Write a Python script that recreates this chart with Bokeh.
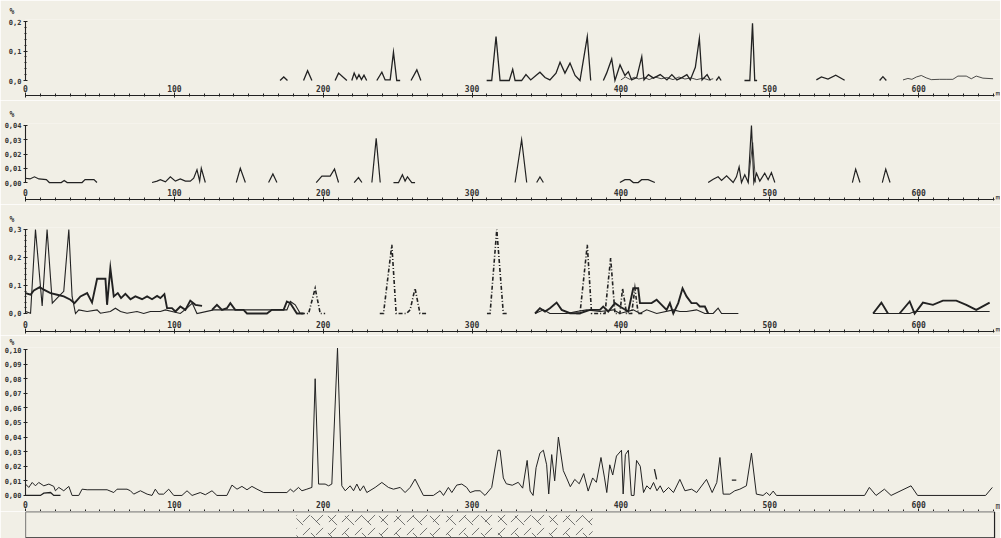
import numpy as np
from bokeh.plotting import figure
from bokeh.models import Range1d, FixedTicker, CustomJSTickFormatter, Label, ColumnDataSource
from bokeh.layouts import column
from bokeh.embed import file_html
from bokeh.resources import INLINE

N = float("nan")

# ---------------- data (distance m, content %) ----------------
# Panel 1
p1_main_m = [171, 173.5, 176, N, 186.8, 189.5, 192.4, N, 208, 210.3, 215.9, N,
             219.2, 220.8, 222.6, 224, 225.7, 227.4, 229.2, N,
             236, 239.4, 241.6, 245, 247.2, 249.4, 251.7, N, 259, 262.9, 265.6, N,
             309.8, 313.2, 316.1, 318.8, 321.5, 325, 327.3, 328.9, 333.3, 336.2,
             339.4, 342.9, 345.6, 349, 352.3, 356.4, 359.1, 362.4, 365.8, 369.2,
             372.5, 377.4, 379.7, N,
             388.2, 390.4, 393.8, 396, 399.4, 402.7, 405, 407.2, 410.6, 414,
             415.5, 418.5, 421.9, 426.4, 430.9, 434.2, 437.6, 441, 444.3, 446.6,
             450, 452.7, 454.5, 457.9, 460.1, N,
             464, 465.8, 467.3, N, 483, 486.6, 488.4, 489.9, 491.5, N,
             531.3, 534.7, 539.1, 544.3, 550.3, N, 573.8, 576, 578.3]
p1_main_v = [0, 0.012, 0, N, 0, 0.033, 0, N, 0, 0.025, 0, N,
             0, 0.025, 0.005, 0.02, 0.003, 0.018, 0, N,
             0, 0.028, 0.002, 0.002, 0.096, 0, 0, N, 0, 0.036, 0, N,
             0, 0, 0.149, 0, 0, 0, 0.038, 0, 0, 0.02,
             0.002, 0.017, 0.028, 0.01, 0.002, 0.025, 0.062, 0.025, 0.059, 0.017,
             0, 0.149, 0, N,
             0, 0.025, 0.073, 0, 0.053, 0.017, 0.03, 0.002, 0.01, 0.081,
             0.002, 0.02, 0.008, 0.02, 0.002, 0.02, 0.002, 0.01, 0.02, 0.002,
             0.045, 0.143, 0.002, 0.02, 0, N,
             0, 0.012, 0, N, 0, 0, 0.194, 0, 0, N,
             0.002, 0.012, 0.005, 0.018, 0.001, N, 0, 0.013, 0]
p1_thin_m = [400, 403, 406, 409, 412, 416, 419, 423, 427, 431, 435, 439, 443, 447, 451, 455, 459, 462, N,
             589.5, 592.8, 595.5, 598.5, 601.8, 605.1, 608.5, 614, 619, 623, 626.4, 632, 635.4, 638.7, 643.2, 650]
p1_thin_v = [0.002, 0.012, 0.004, 0.011, 0.005, 0.01, 0.003, 0.012, 0.006, 0.01, 0.003, 0.012, 0.005, 0.009, 0.003, 0.008, 0.002, 0.006, N,
             0.002, 0.007, 0.004, 0.012, 0.017, 0.009, 0.003, 0.004, 0.004, 0.004, 0.015, 0.015, 0.006, 0.015, 0.008, 0.006]

# Panel 2
p2_main_m = [0, 3, 6, 9, 14, 16, 24, 26, 28, 38, 40, 46, 48, N,
             85, 88.4, 90.6, 94, 97.3, 100.7, 104, 107.4, 110.7, 113, 115.2, 117, 118.1, 120.8, N,
             141.6, 144.3, 147.7, N, 163.3, 166.2, 168.9, N,
             195.3, 199.1, 204.7, 207.6, 210.3, N, 220.8, 223.7, 226, N,
             232.7, 235.6, 238.3, N, 247.2, 250.6, 253.2, 255, 256.6, 259.5, 261.7, N,
             328.9, 333.3, 336.7, N, 343.4, 345.6, 347.9, N,
             399.3, 402.7, 406, 408.3, 411.6, 413.9, 418.3, 422.8, N,
             458.6, 462, 465.3, 467.6, 471, 475.4, 477.6, 479.4, 481, 483.2,
             485.5, 487.7, 489.3, 491.1, 493.3, 496.6, 498.9, 501.1, 503.4, N,
             555.5, 557.7, 560.6, N, 575.6, 577.9, 580.8]
p2_main_v = [0.003, 0.0025, 0.004, 0.0025, 0.002, 0, 0, 0.0015, 0, 0, 0.002, 0.002, 0, N,
             0, 0.001, 0.002, 0.0005, 0.004, 0.001, 0.0025, 0.001, 0.001, 0.003, 0.009, 0.001, 0.01, 0, N,
             0, 0.01, 0, N, 0, 0.006, 0, N,
             0, 0.0045, 0.0045, 0.0095, 0, N, 0, 0.0035, 0, N,
             0, 0.031, 0, N, 0, 0, 0.0055, 0.001, 0.004, 0, 0, N,
             0, 0.03, 0, N, 0, 0.004, 0, N,
             0, 0.002, 0.002, 0, 0, 0.002, 0.002, 0, N,
             0, 0.0023, 0.004, 0.0015, 0.0047, 0, 0.004, 0.011, 0, 0.0054,
             0, 0.040, 0, 0.0065, 0.001, 0.0065, 0.002, 0.007, 0, N,
             0, 0.0094, 0, N, 0, 0.0094, 0]
p2_thin_m = [485.5, 488.5, 490.5]
p2_thin_v = [0, 0.028, 0]

# Panel 3
p3_thick_m = [0, 3.4, 5.6, 9.6, 12.3, 16.8, 21.3, 25.7, 30.2, 32.9,
              36.9, 41.4, 44.7, 48.1, 53.7, 54.8, 57, 59.3, 62, 64.2,
              67.1, 70.5, 73.8, 78.3, 81.7, 85, 88.4, 90.6, 93.3, 95.1,
              98.4, 100.7, 104, 107.4, 110.7, 114.1, 118.6, N,
              125.3, 128.6, 132, 135.3, 137.6, 140.9, 146.5, 148.8, 162.2, 165.5,
              173.4, 175.6, 177.9, 182.3, 186.8, N,
              342.3, 345.6, 349, 352.3, 356.8, 360.2, 365.8, 372.5, 379.2, 385.9,
              388.1, 391.5, 396, 399.3, 404.9, 408.3, 411.6, 412.8, 420.6, 424,
              426.2, 430.7, 432.9, 435.2, 438.5, 441.4, 444.1, 447.4, 450.8, 453,
              456.4, 458.6, N, 569.4, 575, 579.4, N,
              587.2, 594, 597.3, 602.9, 609.6, 616.3, 625.3, 632, 638.7, 647.7]
p3_thick_v = [0.073, 0.067, 0.082, 0.094, 0.085, 0.073, 0.067, 0.061, 0.049, 0.037,
              0.061, 0.073, 0.039, 0.124, 0.124, 0.031, 0.162, 0.061, 0.073, 0.055,
              0.07, 0.051, 0.061, 0.051, 0.061, 0.051, 0.063, 0.055, 0.069, 0.019,
              0.019, 0.007, 0.025, 0.013, 0.046, 0.031, 0.027, N,
              0.013, 0.031, 0.013, 0.019, 0.037, 0.013, 0.013, 0, 0, 0.013,
              0.013, 0.043, 0.037, 0, 0, N,
              0, 0.019, 0.007, 0.019, 0.039, 0.013, 0.001, 0.001, 0.013, 0.013,
              0.025, 0.007, 0.037, 0.025, 0.007, 0.09, 0.09, 0.037, 0.037, 0.049,
              0.037, 0.013, 0.037, 0, 0.037, 0.09, 0.061, 0.037, 0.037, 0.025,
              0.025, 0, N, 0, 0.039, 0, N,
              0, 0.043, 0, 0.039, 0.031, 0.046, 0.046, 0.031, 0.013, 0.039]
p3_thin_m = [0, 3.4, 6.7, 11.2, 14.5, 18, 20.1, 23.5, 25.7, 29.1,
             31.3, 33.6, 35.8, 41.4, 48.1, 50.3, 57, 60.4, 63.8, 68.2,
             74.9, 79.4, 83.9, 90.6, 94, 98.4, 104, 108.5, 112, 115.2,
             126.4, 139.8, 148.8, 175.6, 177.9, 181.2, 184.6, N,
             342.3, 348, 352.3, 363.5, 370.2, 377, 386, 395, 399.3, 408.3,
             412.8, 417.3, 424, 435.2, 439.6, 444.1, 450.8, 456.4, 462, 465.3,
             467.6, 478.9, N, 569.4, 594, 597.3, 600.7, 609.6, 647.7]
p3_thin_v = [0.007, 0.001, 0.3, 0.027, 0.3, 0.037, 0.049, 0.067, 0.079, 0.3,
             0.061, 0, 0.013, 0.007, 0.013, 0.001, 0.007, 0.019, 0.007, 0.001,
             0.007, 0, 0.007, 0.007, 0.013, 0.007, 0, 0.019, 0.037, 0,
             0.013, 0.013, 0.013, 0.013, 0.043, 0.031, 0, N,
             0, 0.013, 0, 0, 0.007, 0.013, 0.007, 0.013, 0, 0.013,
             0, 0.013, 0, 0.013, 0.007, 0.007, 0.013, 0, 0, 0.019,
             0, 0, N, 0, 0, 0.007, 0.007, 0.007, 0.007]
p3_dd_m = [185, 190.2, 194.6, 198, 201.3, N,
           238, 240.5, 246.1, 249, 256, 258.4, 261.7, 265, 269.6, N,
           310, 312.1, 316.6, 321, 323.3, N,
           370, 372.5, 377.4, 380.3, 389.3, 393.1, 396, 399.3, 401.1, 403.8, 407.2, 409.4, 411.6, 415]
p3_dd_v = [0, 0, 0.09, 0, 0, N,
           0, 0, 0.245, 0, 0, 0.013, 0.09, 0, 0, N,
           0, 0, 0.3, 0, 0, N,
           0, 0, 0.245, 0, 0, 0.198, 0, 0, 0.09, 0, 0, 0.09, 0, 0]

# Panel 4
p4_main_m = [0, 2.2, 4.5, 6.7, 8.9, 12.3, 15.7, 19, 20.1, 22.4,
             25.7, 29.1, 31.3, 35.8, 38, 41.4, 54.8, 59.3, 61.5, 68.2,
             70.5, 72.7, 77.2, 81.7, 85, 87.2, 89.5, 92.8, 96.2, 99.6,
             105.1, 108.5, 111.9, 117.4, 120.8, 125.3, 128.6, 135.3, 138.7, 142.1,
             145.4, 148.8, 152.1, 155.5, 160, 175.6, 177.9, 180.1, 183.4, 185.7,
             189, 192.4, 194.6, 196.9, 201.3, 203.6, 205.8, 209.6, 212.5, 214.8,
             218.1, 220.4, 222.6, 224.8, 227.1, 229.3, 234.9, 239.4, 243.8, 247.2,
             251.7, 255, 258.4, 261.7, 267.3, 274, 278.5, 280.8, 284.1, 286.4,
             289.7, 293.1, 296.4, 298.7, 302, 305.4, 308.7, 313.2, 317.4,
             318.8, 321, 323, 327, 331, 334, 337, 339, 341, 343,
             345.6, 347.9, 350.1, 351.5, 353.5, 355.5, 358, 361.3, 363.5, 366,
             369, 372, 375, 378, 381, 383.5, 386.6, 389, 390.5, 392.5,
             394.5, 397, 400.4, 401.5, 403, 405, 407, 408.8, 410.5, 413,
             415.2, 417.4, 419.7, 421.9, 424.2, 426.4, 428.6, 432, 435.3, 439.6,
             443, 447.5, 450.9, 457.5, 461.3, 464.4, 466.5, 468.7, 473.2, 476.5,
             479.9, 484.3, 487.7, 491, 495.5, 497.8, 500, 502.3, 504.5, 563.7,
             566.9, 571.4, 577, 581.5, 594.9, 599.3, 645, 649.5]
p4_main_v = [0.0078, 0.0055, 0.0089, 0.0066, 0.0089, 0.0066, 0.0078, 0.0062, 0.0032, 0.0055,
             0.0032, 0.0062, 0, 0, 0.0043, 0.0039, 0.0039, 0.002, 0.0043, 0.0043,
             0.0032, 0.0009, 0.0032, 0.0009, 0, 0.0043, 0.0009, 0.0009, 0.0043, 0,
             0, 0.0032, 0, 0.002, 0.0005, 0.0032, 0, 0, 0.0071, 0.0043,
             0.0062, 0.0039, 0.0062, 0.0043, 0.002, 0.002, 0.0043, 0.0025, 0.0055, 0.0032,
             0.0043, 0.0055, 0.080, 0.0078, 0.0078, 0.0066, 0.0078, 0.101, 0.0066, 0.0032,
             0.0066, 0.0032, 0.0078, 0.0032, 0.0066, 0.002, 0.0055, 0.0089, 0.0055, 0.0043,
             0.0055, 0.002, 0.0055, 0.0112, 0, 0, 0.0032, 0, 0.0055, 0.002,
             0.0071, 0.0078, 0.0055, 0.002, 0.0032, 0.0032, 0, 0.0055, 0.031,
             0.031, 0.012, 0.008, 0.007, 0.009, 0.005, 0.024, 0.003, 0.0, 0.019,
             0.029, 0.031, 0.021, 0.001, 0.028, 0.01, 0.040, 0.017, 0.012, 0.006,
             0.011, 0.008, 0.015, 0.003, 0.012, 0.009, 0.026, 0.012, 0.002, 0.021,
             0.014, 0.027, 0.031, 0.001, 0.028, 0.031, 0.0, 0.0, 0.024, 0.02,
             0.002, 0.0066, 0.0043, 0.0089, 0.0032, 0.0066, 0.002, 0.0055, 0.002, 0.011,
             0.0032, 0.0043, 0.002, 0.011, 0.002, 0.0089, 0.026, 0.0009, 0.0009, 0.0032,
             0.0043, 0.0066, 0.029, 0.0009, 0, 0.002, 0, 0.003, 0, 0,
             0.0055, 0, 0.0043, 0, 0.0066, 0, 0, 0.0055]
p4_extra_m = [0, 10, 12.3, 16.8, 19, 23.5, N, 422.5, 424, N, 474.5, 477.5]
p4_extra_v = [0, 0, 0.0016, 0.002, 0, 0, N, 0.018, 0.011, N, 0.0105, 0.0105]

# Lithology strip
lith_left = [0, 182, 381]
lith_right = [182, 381, 651]
lith_kind = ["", "volcanic", ""]

# Axis ticks
x_major = [0, 100, 200, 300, 400, 500, 600]
x_minor = list(range(0, 651, 10))
X_END = 651

# ---------------- style ----------------
BG = "#f1efe6"
INK = "#222222"
TXT = "#333333"
FONT = "DejaVu Sans Mono"
FRAME_W = 975
LEFT_B = 25

x_range = Range1d(0, 655)


def panel(frame_h, y0, y1, ytop, yticks, yminor, dec, top_b, bot_b, pct_standoff, m_up):
    p = figure(frame_width=FRAME_W, frame_height=frame_h, x_range=x_range,
               y_range=Range1d(y0, y1), output_backend="svg", toolbar_location=None,
               min_border_left=LEFT_B, min_border_right=0, min_border_top=top_b,
               min_border_bottom=bot_b, background_fill_color=BG, border_fill_color=BG,
               outline_line_color=None, title="%")
    p.grid.visible = False
    t = p.title
    t.align = "left"
    t.offset = -16
    t.standoff = pct_standoff
    t.text_font = FONT
    t.text_font_size = "8px"
    t.text_font_style = "bold"
    t.text_color = TXT
    # y axis
    ya = p.yaxis[0]
    ya.ticker = FixedTicker(ticks=yticks, minor_ticks=yminor)
    ya.formatter = CustomJSTickFormatter(code="return tick.toFixed(%d).replace('.', ',');" % dec)
    ya.bounds = (0, ytop)
    ya.axis_line_color = INK
    ya.axis_line_width = 1.1
    ya.major_tick_in = 2
    ya.major_tick_out = 2
    ya.minor_tick_in = 1
    ya.minor_tick_out = 1
    ya.major_tick_line_color = INK
    ya.minor_tick_line_color = INK
    ya.major_label_standoff = 2
    ya.major_label_text_font = FONT
    ya.major_label_text_font_size = "7px"
    ya.major_label_text_font_style = "bold"
    ya.major_label_text_color = TXT
    # x axis
    xa = p.xaxis[0]
    xa.ticker = FixedTicker(ticks=x_major, minor_ticks=x_minor)
    xa.bounds = (0, X_END)
    xa.axis_line_color = INK
    xa.axis_line_width = 1.2
    xa.major_tick_in = 3
    xa.major_tick_out = 2
    xa.minor_tick_in = 2
    xa.minor_tick_out = 1
    xa.major_tick_line_color = INK
    xa.minor_tick_line_color = INK
    xa.major_label_standoff = -13
    xa.major_label_text_font = FONT
    xa.major_label_text_font_size = "8px"
    xa.major_label_text_font_style = "bold"
    xa.major_label_text_color = TXT
    p.add_layout(Label(x=X_END, y=y0, x_offset=1, y_offset=m_up, text="m",
                       text_font=FONT, text_font_size="8px", text_color=TXT,
                       text_align="left", text_baseline="middle"))
    return p


def series(p, m, v, width, dash="solid"):
    src = ColumnDataSource(dict(x=np.array(m, dtype=float), y=np.array(v, dtype=float)))
    p.line("x", "y", source=src, line_color=INK, line_width=width, line_dash=dash,
           line_join="miter")


f1 = panel(76, -0.0508, 0.2068, 0.2, [0, 0.1, 0.2], [0.02 * i for i in range(11)], 1, 18, 5, 8, 1)
series(f1, p1_main_m, p1_main_v, 1.3)
series(f1, p1_thin_m, p1_thin_v, 0.8)

f2 = panel(76, -0.0119, 0.0414, 0.04, [0, 0.01, 0.02, 0.03, 0.04], [], 2, 23, 5, 10, 1)
series(f2, p2_main_m, p2_main_v, 1.2)
series(f2, p2_thin_m, p2_thin_v, 0.8)

f3 = panel(104, -0.0643, 0.3071, 0.3, [0, 0.1, 0.2, 0.3], [0.02 * i for i in range(16)], 1, 23, 4, 7, 1)
series(f3, p3_thick_m, p3_thick_v, 1.9)
series(f3, p3_thin_m, p3_thin_v, 1.1)
series(f3, p3_dd_m, p3_dd_v, 1.6, "4 2 1 2")

f4 = panel(164, -0.011, 0.1014, 0.10, [i / 100 for i in range(11)], [], 2, 11, 0, 1, 5)
series(f4, p4_main_m, p4_main_v, 1.0)
series(f4, p4_extra_m, p4_extra_v, 1.3)

f5 = figure(frame_width=FRAME_W, frame_height=27, x_range=x_range, y_range=Range1d(0, 1),
            output_backend="svg", toolbar_location=None, min_border_left=LEFT_B,
            min_border_right=0, min_border_top=0, min_border_bottom=0,
            background_fill_color=BG, border_fill_color=BG, outline_line_color=None)
f5.grid.visible = False
f5.xaxis.visible = False
f5.yaxis.visible = False
lith_src = ColumnDataSource(dict(left=lith_left, right=lith_right,
                                 h1=["," if k else " " for k in lith_kind],
                                 h2=["`" if k else " " for k in lith_kind]))
f5.quad(left="left", right="right", bottom=0.06, top=0.94, source=lith_src,
        fill_alpha=0, line_color=None, hatch_pattern="h1", hatch_scale=13,
        hatch_weight=0.8, hatch_color="#555555")
f5.quad(left="left", right="right", bottom=0.06, top=0.94, source=lith_src,
        fill_alpha=0, line_color=None, hatch_pattern="h2", hatch_scale=17,
        hatch_weight=0.8, hatch_color="#555555")
box_src = ColumnDataSource(dict(left=[min(lith_left)], right=[max(lith_right)]))
f5.quad(left="left", right="right", bottom=0.02, top=0.99, source=box_src,
        fill_alpha=0, line_color=INK, line_width=1.2)

layout = column(f1, f2, f3, f4, f5, spacing=0)
open("out.html", "w").write(file_html(layout, INLINE))
